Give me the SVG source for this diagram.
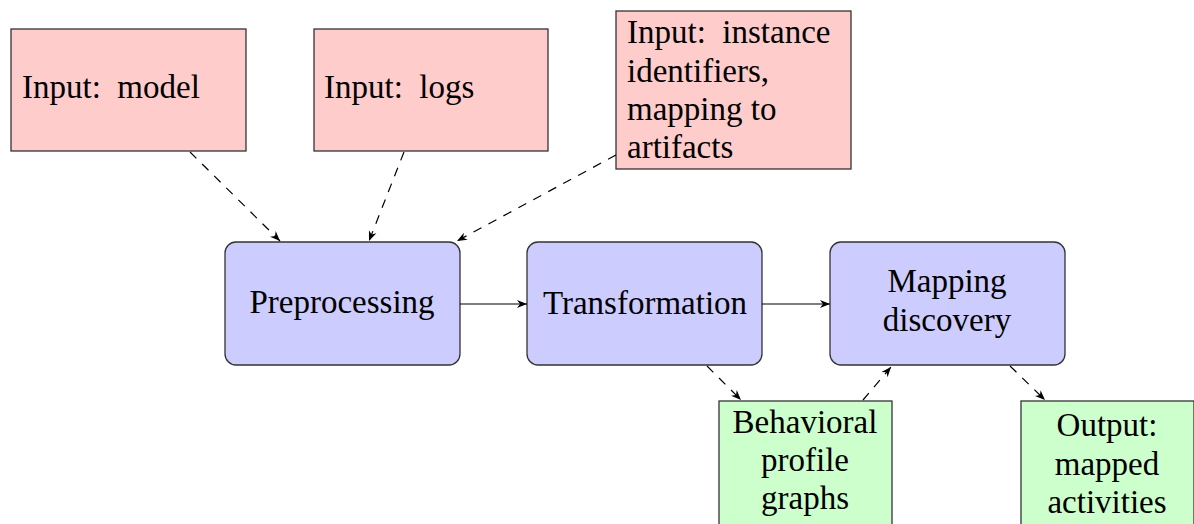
<svg xmlns="http://www.w3.org/2000/svg" width="1194" height="524" viewBox="0 0 1194 524">
<style>
.in{fill:#ffcccc;stroke:#333;stroke-width:1.3}
.pr{fill:#ccccff;stroke:#333;stroke-width:1.3}
.out{fill:#ccffcc;stroke:#333;stroke-width:1.3}
text{font-family:"Liberation Serif","Times New Roman",serif;font-size:33px;fill:#000}
.c{text-anchor:middle}
.e{fill:none;stroke:#000;stroke-width:1.2}
.d{stroke-dasharray:9 8}
</style>
<defs>
<marker id="ah" viewBox="0 0 10 10" refX="10" refY="5" markerWidth="10" markerHeight="10" markerUnits="userSpaceOnUse" orient="auto">
<path d="M0,1 L10,5 L0,9 L3,5 Z" fill="#000"/>
</marker>
</defs>
<g id="model"><rect class="in" x="11" y="29" width="235" height="122"/><text x="22" y="98" xml:space="preserve">Input:  model</text></g>
<g id="logs"><rect class="in" x="314" y="29" width="234" height="122"/><text x="324" y="98" xml:space="preserve">Input:  logs</text></g>
<g id="instance"><rect class="in" x="616" y="11" width="235" height="158"/>
<text x="627" y="43" xml:space="preserve">Input:  instance</text>
<text x="627" y="82">identifiers,</text>
<text x="627" y="120">mapping to</text>
<text x="627" y="158">artifacts</text></g>
<g id="preprocessing"><rect class="pr" x="225" y="242" width="235" height="123" rx="11"/><text class="c" x="342" y="313">Preprocessing</text></g>
<g id="transformation"><rect class="pr" x="527" y="242" width="235" height="123" rx="11"/><text class="c" x="645" y="314">Transformation</text></g>
<g id="mapping"><rect class="pr" x="830" y="242" width="235" height="123" rx="11"/><text class="c" x="947" y="292">Mapping</text><text class="c" x="947" y="331">discovery</text></g>
<g id="behavioral"><rect class="out" x="719" y="401" width="173" height="140"/>
<text class="c" x="805" y="433">Behavioral</text><text class="c" x="805" y="471">profile</text><text class="c" x="805" y="509">graphs</text></g>
<g id="output"><rect class="out" x="1021" y="401" width="173" height="140"/>
<text class="c" x="1107" y="436">Output:</text><text class="c" x="1107" y="475">mapped</text><text class="c" x="1107" y="513">activities</text></g>
<g id="connectors">
<line class="e d" x1="190" y1="152" x2="280" y2="241" marker-end="url(#ah)"/>
<line class="e d" x1="404" y1="152" x2="369" y2="241" marker-end="url(#ah)"/>
<line class="e d" x1="616" y1="155" x2="457" y2="241" marker-end="url(#ah)"/>
<line class="e" x1="460" y1="304" x2="527" y2="304" marker-end="url(#ah)"/>
<line class="e" x1="762" y1="304" x2="830" y2="304" marker-end="url(#ah)"/>
<line class="e d" x1="707" y1="366" x2="741" y2="400" marker-end="url(#ah)"/>
<line class="e d" x1="863" y1="400" x2="891" y2="367" marker-end="url(#ah)"/>
<line class="e d" x1="1010" y1="366" x2="1045" y2="400" marker-end="url(#ah)"/>
</g>
</svg>
